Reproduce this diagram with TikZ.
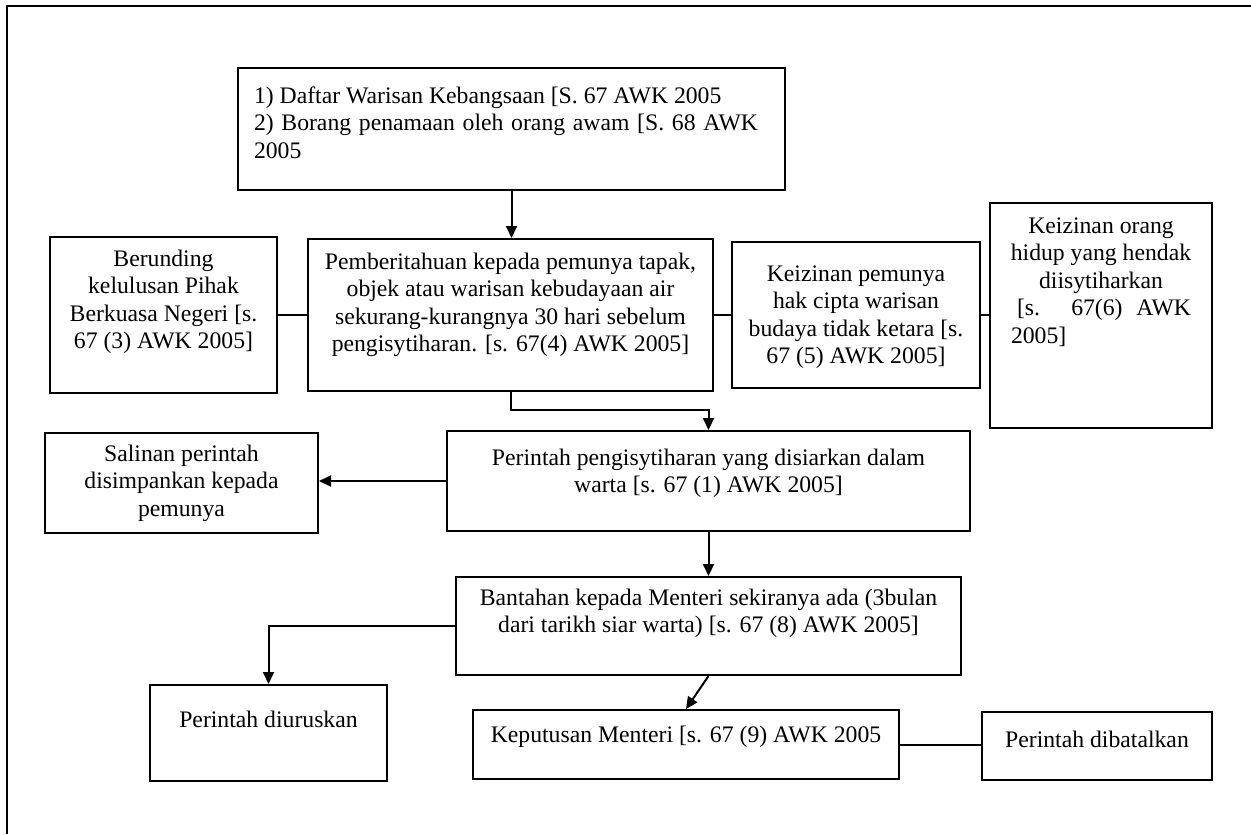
\documentclass[tikz,border=0pt]{standalone}
\usepackage{fontspec}
\setmainfont{Liberation Serif}
\usetikzlibrary{arrows.meta}
\newcommand{\boxtext}[5][\centering]{\parbox[c][#3][t]{#2}{\vspace*{\dimexpr#4-9.6pt\relax}#1\strut#5\par}}

\begin{document}
\begin{tikzpicture}[x=0.5pt,y=-0.5pt,
  box/.style={draw,line width=1pt,inner sep=0pt,font=\fontsize{11.85}{13.75}\selectfont},
  arr/.style={-{Triangle[length=6pt,width=5.5pt]}}]
\useasboundingbox (0,0) rectangle (1251,834);
\draw[line width=1.2pt] (1251,6) -- (7,6) -- (7,834);

\node[box] (1) at (511.5,129) {\boxtext[\raggedright]{273.5pt}{61pt}{17.5pt}{\hspace*{8pt}1) Daftar Warisan Kebangsaan [S. 67 AWK 2005\\
  \hspace*{8pt}\makebox[252pt][s]{2) Borang penamaan oleh orang awam [S. 68 AWK}\\
  \hspace*{8pt}2005}};
\node[box] (2) at (163.5,315) {\boxtext{113.5pt}{78pt}{14.5pt}{Berunding\\kelulusan Pihak\\Berkuasa Negeri [s.\\67 (3) AWK 2005]}};
\node[box] (3) at (510.5,315) {\boxtext{202.5pt}{76pt}{15pt}{Pemberitahuan kepada pemunya tapak,\\objek atau warisan kebudayaan air\\sekurang-kurangnya 30 hari sebelum\\pengisytiharan. [s. 67(4) AWK 2005]}};
\node[box] (4) at (856,315) {\boxtext{124pt}{73pt}{19.5pt}{Keizinan pemunya\\hak cipta warisan\\budaya tidak ketara [s.\\67 (5) AWK 2005]}};
\node[box] (5) at (1101,315.5) {\boxtext{111pt}{112.5pt}{15pt}{Keizinan orang\\hidup yang hendak\\diisytiharkan\\
  \makebox[90pt][l]{\hspace{3pt}\makebox[87pt][s]{[s. 67(6) AWK}}\\
  \makebox[90pt][l]{2005]}}};
\node[box] (6) at (708.5,481) {\boxtext{261.5pt}{50pt}{17pt}{Perintah pengisytiharan yang disiarkan dalam\\warta [s. 67 (1) AWK 2005]}};
\node[box] (7) at (181.5,483) {\boxtext{136.5pt}{50pt}{14pt}{Salinan perintah\\disimpankan kepada\\pemunya}};
\node[box] (8) at (708.5,626) {\boxtext{252.5pt}{49pt}{14pt}{Bantahan kepada Menteri sekiranya ada (3bulan\\dari tarikh siar warta) [s. 67 (8) AWK 2005]}};
\node[box] (9) at (268.5,733) {\boxtext{118.5pt}{48pt}{21pt}{Perintah diuruskan}};
\node[box] (10) at (686,744.5) {\boxtext{213pt}{34.5pt}{16pt}{Keputusan Menteri [s. 67 (9) AWK 2005}};
\node[box] (11) at (1097,746) {\boxtext{115pt}{34pt}{17.5pt}{Perintah dibatalkan}};

\path[draw,line width=1pt,arr] (1.south) -- (1.south |- 3.north);
\path[draw,line width=1pt] (2.east) -- (2.east -| 3.west);
\path[draw,line width=1pt] (3.east) -- (3.east -| 4.west);
\path[draw,line width=1pt] (4.east) -- (4.east -| 5.west);
\path[draw,line width=1pt,arr] (3.south) -- ++(0,18) -| (6.north);
\path[draw,line width=1pt,arr] (6.west) -- (6.west -| 7.east);
\path[draw,line width=1pt,arr] (6.south) -- (6.south |- 8.north);
\path[draw,line width=1pt,arr] (8.west) -| (9.north);
\path[draw,line width=1pt,arr] (8.south) -- (10.north);
\path[draw,line width=1pt] (10.east) -- (10.east -| 11.west);
\end{tikzpicture}
\end{document}
